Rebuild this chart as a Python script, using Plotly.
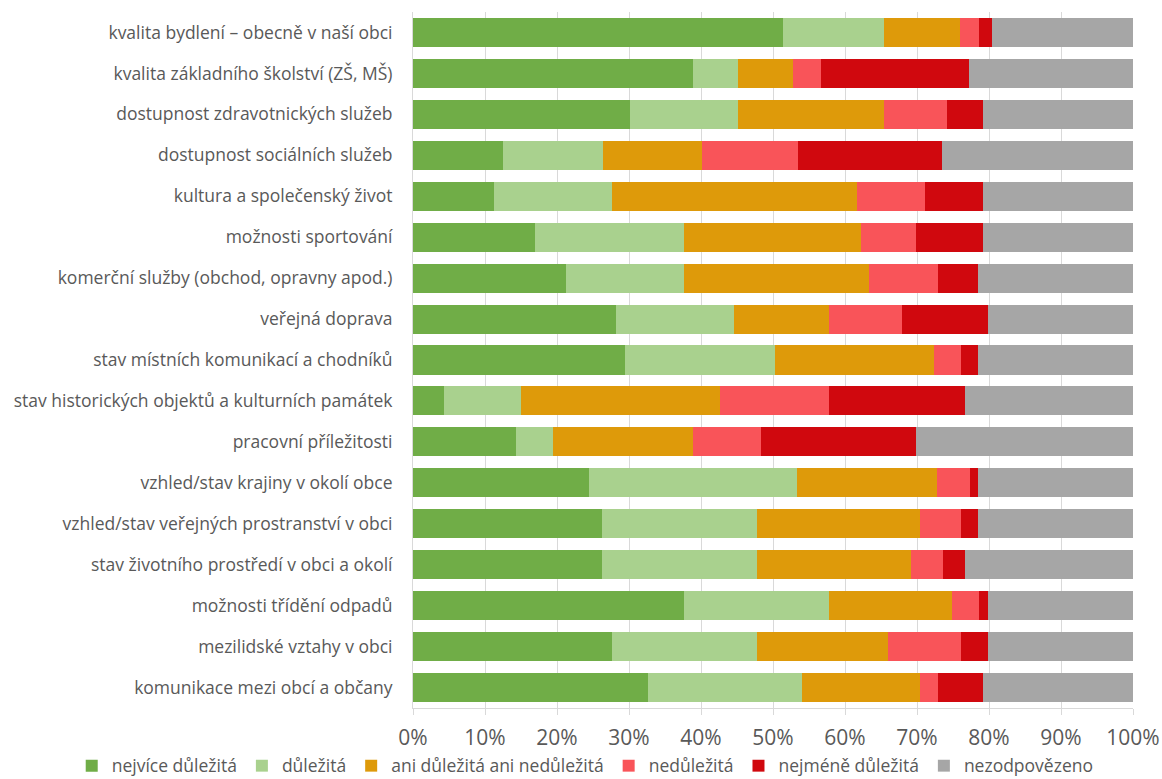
import plotly.graph_objects as go

# Hodnocení oblastí života v obci (podíl odpovědí v %)
categories = [
    "kvalita bydlení – obecně v naší obci",
    "kvalita základního školství (ZŠ, MŠ)",
    "dostupnost zdravotnických služeb",
    "dostupnost sociálních služeb",
    "kultura a společenský život",
    "možnosti sportování",
    "komerční služby (obchod, opravny apod.)",
    "veřejná doprava",
    "stav místních komunikací a chodníků",
    "stav historických objektů a kulturních památek",
    "pracovní příležitosti",
    "vzhled/stav krajiny v okolí obce",
    "vzhled/stav veřejných prostranství v obci",
    "stav životního prostředí v obci a okolí",
    "možnosti třídění odpadů",
    "mezilidské vztahy v obci",
    "komunikace mezi obcí a občany",
]

nejvice_dulezita = [51.4, 38.9, 30.1, 12.5, 11.2, 16.9, 21.2, 28.2, 29.4, 4.3, 14.3, 24.4, 26.3, 26.3, 37.6, 27.6, 32.6]
dulezita = [14.0, 6.3, 15.1, 13.9, 16.4, 20.7, 16.4, 16.4, 20.9, 10.7, 5.1, 29.0, 21.5, 21.5, 20.2, 20.2, 21.4]
ani_ani = [10.6, 7.6, 20.2, 13.8, 34.0, 24.6, 25.8, 13.2, 22.0, 27.7, 19.5, 19.4, 22.6, 21.3, 17.0, 18.2, 16.4]
nedulezita = [2.6, 3.8, 8.8, 13.3, 9.5, 7.6, 9.5, 10.1, 3.8, 15.1, 9.5, 4.5, 5.7, 4.5, 3.8, 10.1, 2.5]
nejmene_dulezita = [1.8, 20.6, 5.0, 20.0, 8.1, 9.4, 5.6, 11.9, 2.4, 18.8, 21.4, 1.2, 2.4, 3.1, 1.2, 3.7, 6.3]
nezodpovezeno = [19.6, 22.8, 20.8, 26.5, 20.8, 20.8, 21.5, 20.2, 21.5, 23.4, 30.2, 21.5, 21.5, 23.3, 20.2, 20.2, 20.8]

series = [
    ("nejvíce důležitá", nejvice_dulezita, "#70AD47"),
    ("důležitá", dulezita, "#A9D18E"),
    ("ani důležitá ani nedůležitá", ani_ani, "#DE9A0A"),
    ("nedůležitá", nedulezita, "#F95459"),
    ("nejméně důležitá", nejmene_dulezita, "#D0080E"),
    ("nezodpovězeno", nezodpovezeno, "#A6A6A6"),
]

fig = go.Figure()
for name, values, color in series:
    fig.add_trace(go.Bar(
        y=categories,
        x=values,
        name=name,
        orientation="h",
        marker=dict(color=color, line=dict(width=0)),
        hovertemplate="%{y}<br>" + name + ": %{x:.1f} %<extra></extra>",
    ))

fig.update_layout(
    barmode="stack",
    barnorm="percent",
    bargap=0.29,
    width=1162,
    height=779,
    margin=dict(l=413, r=29, t=12, b=71, autoexpand=False),
    paper_bgcolor="white",
    plot_bgcolor="white",
    font=dict(family="Open Sans", color="#595959"),
    legend=dict(
        orientation="h",
        xref="paper",
        x=-0.474,
        xanchor="left",
        yref="paper",
        y=-0.083,
        yanchor="middle",
        font=dict(size=17.5, color="#595959"),
        traceorder="normal",
        itemwidth=30,
    ),
    xaxis=dict(
        range=[0, 100],
        dtick=10,
        ticksuffix="%",
        showgrid=True,
        gridcolor="#D9D9D9",
        gridwidth=1,
        showline=True,
        linecolor="#D9D9D9",
        ticks="outside",
        ticklen=6,
        tickcolor="#D9D9D9",
        ticklabelstandoff=5,
        tickfont=dict(size=21, color="#595959"),
        zeroline=False,
        automargin=False,
        fixedrange=True,
    ),
    yaxis=dict(
        autorange="reversed",
        showline=True,
        linecolor="#D9D9D9",
        ticks="",
        ticklabelstandoff=16,
        tickfont=dict(size=17.5, color="#595959"),
        automargin=False,
        fixedrange=True,
    ),
)

fig.write_html("out.html")
